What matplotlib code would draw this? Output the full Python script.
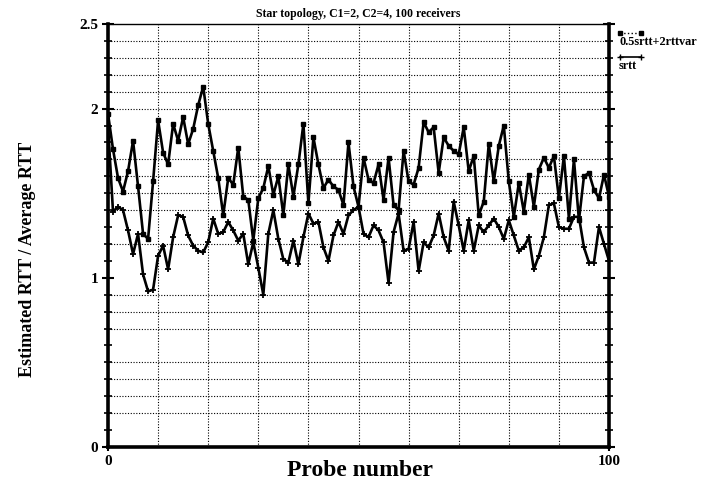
import matplotlib
matplotlib.use("Agg")
import matplotlib.pyplot as plt
from matplotlib.lines import Line2D
from matplotlib.ticker import MultipleLocator

# Sondes 0..100
probes = list(range(101))

# 0.5srtt + 2rttvar
upper = [1.97, 1.76, 1.59, 1.51, 1.63, 1.81, 1.54, 1.26, 1.23, 1.57,
         1.93, 1.74, 1.67, 1.91, 1.81, 1.95, 1.79, 1.88, 2.02, 2.13,
         1.91, 1.75, 1.59, 1.37, 1.59, 1.55, 1.77, 1.48, 1.46, 1.22,
         1.47, 1.53, 1.66, 1.49, 1.60, 1.37, 1.67, 1.48, 1.67, 1.91,
         1.44, 1.83, 1.67, 1.53, 1.58, 1.54, 1.52, 1.43, 1.80, 1.54,
         1.42, 1.71, 1.58, 1.56, 1.67, 1.46, 1.71, 1.43, 1.40, 1.75,
         1.57, 1.55, 1.65, 1.92, 1.86, 1.89, 1.62, 1.83, 1.78, 1.75,
         1.73, 1.89, 1.63, 1.72, 1.37, 1.45, 1.79, 1.57, 1.78, 1.90,
         1.57, 1.36, 1.56, 1.39, 1.61, 1.42, 1.64, 1.71, 1.65, 1.72,
         1.47, 1.72, 1.35, 1.70, 1.34, 1.60, 1.62, 1.52, 1.47, 1.61,
         1.48]

# srtt
lower = [1.90, 1.39, 1.42, 1.40, 1.28, 1.14, 1.26, 1.02, 0.92, 0.93,
         1.13, 1.19, 1.05, 1.24, 1.37, 1.36, 1.25, 1.19, 1.16, 1.15,
         1.21, 1.35, 1.26, 1.27, 1.33, 1.28, 1.22, 1.26, 1.08, 1.21,
         1.06, 0.90, 1.26, 1.40, 1.23, 1.11, 1.09, 1.22, 1.08, 1.24,
         1.38, 1.32, 1.33, 1.18, 1.10, 1.25, 1.33, 1.26, 1.37, 1.40,
         1.42, 1.26, 1.24, 1.31, 1.28, 1.21, 0.97, 1.27, 1.38, 1.16,
         1.17, 1.33, 1.04, 1.21, 1.18, 1.25, 1.38, 1.24, 1.16, 1.45,
         1.31, 1.16, 1.34, 1.16, 1.31, 1.27, 1.31, 1.35, 1.30, 1.23,
         1.34, 1.25, 1.16, 1.18, 1.24, 1.05, 1.13, 1.24, 1.43, 1.44,
         1.30, 1.29, 1.29, 1.36, 1.36, 1.18, 1.09, 1.09, 1.30, 1.20,
         1.10]

ytick_vals = [0, 1, 2, 2.5]
ytick_labels = ["0", "1", "2", "2.5"]
xtick_vals = [0, 100]
xgrid = [10, 20, 30, 40, 50, 60, 70, 80, 90]
ygrid = [0.2, 0.3, 0.4, 0.5, 0.7, 0.8, 0.9, 1.2, 1.4, 1.5, 1.6, 1.7,
         2.0, 2.1, 2.2, 2.3, 2.4]

serif = "Liberation Serif"

fig = plt.figure(figsize=(7.08, 4.87), dpi=100)
ax = fig.add_axes([108 / 708, 1 - 447 / 487, 501 / 708, 423 / 487])

for g in xgrid:
    ax.axvline(g, color="black", linestyle=(0, (1, 1.5)), linewidth=0.8, zorder=1)
for g in ygrid:
    ax.axhline(g, color="black", linestyle=(0, (1, 1.5)), linewidth=0.8, zorder=1)

ax.plot(probes, upper, color="black", linewidth=1.9, marker="s",
        markersize=3.2, zorder=3)
ax.plot(probes, lower, color="black", linewidth=1.9, marker="+",
        markersize=5, markeredgewidth=1.3, zorder=3)

ax.set_xlim(0, 100)
ax.set_ylim(0, 2.5)
ax.set_xticks(xtick_vals)
ax.set_xticklabels([str(v) for v in xtick_vals], fontfamily=serif,
                   fontweight="bold", fontsize=11)
ax.set_yticks(ytick_vals)
ax.set_yticklabels(ytick_labels, fontfamily=serif, fontweight="bold", fontsize=11)
ax.yaxis.set_minor_locator(MultipleLocator(0.1))
ax.tick_params(axis="y", which="major", direction="inout", length=8, width=1.5,
               pad=3, right=True)
ax.tick_params(axis="y", which="minor", direction="inout", length=6, width=1.2,
               right=True)
ax.tick_params(axis="x", which="major", direction="inout", length=6, width=1.5,
               pad=3)

for side in ["left", "bottom", "right"]:
    ax.spines[side].set_linewidth(2.6)
ax.spines["top"].set_linewidth(1.0)

ax.set_title("Star topology, C1=2, C2=4, 100 receivers", fontfamily=serif,
             fontweight="bold", fontsize=8.5, pad=5)
fig.text(360 / 708, 1 - 470 / 487, "Probe number", ha="center", va="center",
         fontfamily=serif, fontweight="bold", fontsize=17)
fig.text(28 / 708, 1 - 259 / 487, "Estimated RTT / Average RTT", rotation=90,
         ha="center", va="center", fontfamily=serif, fontweight="bold",
         fontsize=13)

# legende a droite, symbole au-dessus du texte
fig.add_artist(Line2D([620 / 708, 641 / 708], [1 - 33 / 487, 1 - 33 / 487],
                      color="black", linewidth=1, linestyle=":", marker="s",
                      markersize=3, markevery=[0, 1]))
fig.text(619 / 708, 1 - 42 / 487, "0.5srtt+2rttvar", ha="left", va="center",
         fontfamily=serif, fontweight="bold", fontsize=8.8)
fig.add_artist(Line2D([620 / 708, 641 / 708], [1 - 57 / 487, 1 - 57 / 487],
                      color="black", linewidth=1.2, marker="+", markersize=4,
                      markevery=[0, 1]))
fig.text(619 / 708, 1 - 66 / 487, "srtt", ha="left", va="center",
         fontfamily=serif, fontweight="bold", fontsize=8.8)

plt.savefig("out.png", dpi=100)
